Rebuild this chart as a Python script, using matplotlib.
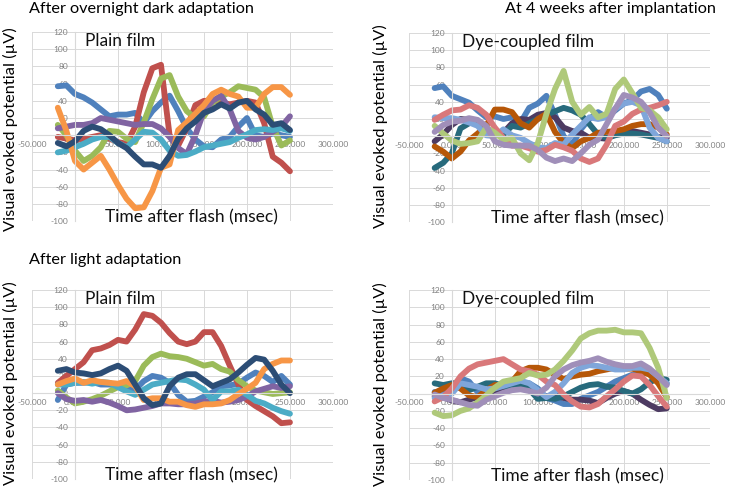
import matplotlib
matplotlib.use('Agg')
import matplotlib.pyplot as plt
from matplotlib.ticker import FuncFormatter, MultipleLocator

plt.rcParams['font.family'] = ['Lato', 'DejaVu Sans']

# time after flash (msec), shared by every trace
t_ms = [-20, -10, 0, 10, 20, 30, 40, 50, 60, 70, 80, 90, 100, 110, 120, 130,
        140, 150, 160, 170, 180, 190, 200, 210, 220, 230, 240, 250]

# --- after overnight dark adaptation, plain film (uV)
dark_plain_blue = [57, 58, 48, 44, 38, 30, 22, 24, 24, 26, 14, 28, 38, 46, 28, 8, -5, -13, -14, -5, -2, 10, 20, 0, -2, 2, 0, -2]
dark_plain_red = [-2, -4, -6, -4, -2, 0, -4, -8, -10, 10, 50, 78, 82, 0, -12, 8, 35, 40, 40, 38, 36, 38, 40, 38, 14, -25, -32, -42]
dark_plain_green = [12, 0, -18, -30, -24, -14, 5, 4, -4, -8, 15, 42, 66, 70, 45, 28, 20, 22, 38, 45, 50, 57, 55, 53, 44, 10, -12, -6]
dark_plain_purple = [8, 10, 12, 12, 14, 20, 18, 16, 14, 12, 13, 13, 8, -2, -15, -22, 0, 28, 40, 46, 30, 5, -3, -5, -2, 4, 10, 22]
dark_plain_aqua = [-20, -18, -14, -10, -5, -2, -2, -9, -14, -5, 4, 3, -5, -18, -24, -23, -19, -14, -12, -10, -8, -3, 1, 6, 7, 6, 8, 5]
dark_plain_orange = [32, 5, -30, -40, -32, -24, -40, -58, -74, -85, -84, -65, -38, -34, 6, 15, 25, 35, 48, 53, 48, 45, 32, 32, 48, 56, 56, 47]
dark_plain_navy = [-9, -13, -7, 5, 10, 7, 0, -9, -15, -25, -34, -34, -38, -24, -4, 8, 16, 26, 30, 36, 31, 38, 40, 30, 24, 12, 14, 6]

# --- at 4 weeks after implantation, dye-coupled film (uV)
dye4w_blue = [56, 58, 47, 43, 39, 30, 22, 23, 20, 22, 16, 33, 38, 47, 25, 0, -10, 8, 20, 28, 22, 30, 38, 42, 52, 55, 48, 32]
dye4w_dkpurple = [-6, 2, 13, 20, 19, 13, 6, 4, 4, 15, 20, 19, 25, 27, 22, 10, 6, 4, -2, -2, -3, 2, 4, 6, 4, 2, -1, -2]
dye4w_teal = [-37, -31, -20, 9, 15, 18, 9, 1, 2, 12, 10, 15, 20, 25, 29, 33, 30, 25, 14, 2, -2, 1, 3, 3, 2, 0, -2, -6]
dye4w_dkorange = [-12, -18, -26, -18, -5, 3, 12, 31, 31, 28, 15, 10, 20, 26, 5, -8, -14, -6, -2, 4, 5, 6, 8, 12, 14, 14, 10, 2]
dye4w_ltblue = [22, 21, 21, 19, 16, 12, 1, 0, 8, 1, -2, -8, -13, -14, -8, -10, 2, 12, 22, 20, 22, 32, 38, 40, 36, 10, -2, -6]
dye4w_pink = [19, 25, 30, 31, 36, 33, 25, 10, -2, -11, -11, -14, -18, -16, -10, -13, -17, -26, -30, -26, -10, 12, 17, 26, 31, 33, 36, 40]
dye4w_ltgreen = [12, 3, -5, -9, -8, -6, 10, 4, -4, -2, -20, -28, -8, 26, 55, 76, 40, 25, 34, 22, 26, 55, 66, 50, 33, 30, 22, 8]
dye4w_lavender = [5, 13, 17, 18, 21, 19, 12, -6, -10, -11, -11, -11, -16, -25, -29, -26, -29, -20, -10, -4, 14, 32, 48, 45, 40, 28, 10, 0]

# --- after light adaptation, plain film (uV)
light_plain_blue = [-8, 10, 12, 12, 13, 10, 10, 8, 5, 4, 14, 20, 18, 12, -2, -10, -9, -4, 1, 8, 9, 11, 18, 24, 20, 13, 20, 10]
light_plain_red = [12, 20, 28, 36, 50, 52, 56, 62, 60, 74, 92, 90, 82, 70, 60, 57, 60, 71, 71, 55, 32, 10, -8, -15, -21, -27, -35, -34]
light_plain_green = [3, -5, -12, -10, -7, -3, 2, 7, 9, 14, 32, 42, 46, 43, 42, 40, 36, 32, 34, 28, 25, 15, 8, 3, 1, -1, 0, 1]
light_plain_purple = [0, -7, -9, -8, -10, -8, -11, -15, -20, -19, -17, -15, -12, -12, -13, -13, -12, -10, -9, -11, -10, -8, -4, 2, 5, 8, 6, 8]
light_plain_aqua = [10, 10, 12, 13, 11, 13, 12, 7, 2, -2, 4, 10, 12, 14, 16, 15, 10, 4, -8, 2, 2, 4, -2, -9, -12, -17, -21, -24]
light_plain_orange = [10, 14, 17, 12, 15, 13, 12, 11, 14, 8, -8, -6, -6, -10, -10, -14, -16, -13, -13, -12, -8, -1, 5, 12, 28, 34, 38, 38]
light_plain_navy = [26, 28, 24, 23, 21, 23, 28, 32, 26, 10, -6, -14, -12, 8, 18, 22, 22, 15, 8, 12, 16, 24, 33, 41, 39, 26, 10, 0]

# --- after light adaptation, dye-coupled film (uV)
light_dye_blue = [2, 0, 5, 18, 14, 2, -2, 0, 4, 8, 10, 12, 6, -5, -8, -12, -12, -6, -2, 2, 8, 14, 18, 22, 24, 24, 22, 12]
light_dye_dkpurple = [-3, -4, -8, -10, -7, -4, -2, 4, 6, 5, 6, 6, 0, -3, -2, -5, -7, -7, -8, -11, -5, 0, 3, 0, -7, -13, -18, -17]
light_dye_teal = [12, 10, 12, 12, 4, 8, 12, 12, 9, 7, 9, 5, -6, -5, -6, -3, 2, 7, 10, 11, 8, 7, 3, 0, 5, 13, 18, 16]
light_dye_dkorange = [1, 6, 10, 6, -2, -4, 4, 10, 10, 14, 26, 30, 30, 28, 22, 17, 20, 22, 23, 26, 28, 30, 29, 29, 26, 22, 12, -4]
light_dye_ltblue = [-5, -2, 0, 12, 10, 8, 5, 6, 9, 12, 15, 12, 4, -4, 2, 12, 24, 30, 33, 32, 30, 28, 28, 30, 30, 28, 20, 12]
light_dye_pink = [-9, -4, 6, 20, 29, 34, 36, 38, 40, 34, 28, 26, 22, 14, 10, -1, -9, -15, -16, -12, -3, 5, 14, 21, 20, 10, -3, -15]
light_dye_ltgreen = [-22, -26, -25, -20, -17, -10, -2, 7, 14, 16, 18, 24, 21, 22, 28, 38, 50, 64, 70, 73, 73, 74, 71, 71, 70, 53, 30, -5]
light_dye_lavender = [-1, -5, -7, -10, -13, -14, -7, -3, 1, 4, 5, 3, 0, 7, 20, 28, 33, 36, 38, 41, 37, 34, 32, 32, 35, 29, 20, 10]

plain_colors = ['#4F81BD', '#C0504D', '#9BBB59', '#8064A2', '#4BACC6', '#F79646', '#2C4D75']
dye_colors = ['#4F81BD', '#4D3B62', '#276A7C', '#B65708', '#7FA6DA', '#D9787A', '#AFC97A', '#A08FB9']

# axes rect, film label, x of the "Time after flash" label, colours, traces
panels = [
    ([0.0436, 0.546, 0.410, 0.388], 'Plain film', 136, plain_colors,
     [dark_plain_blue, dark_plain_red, dark_plain_green, dark_plain_purple,
      dark_plain_aqua, dark_plain_orange, dark_plain_navy]),
    ([0.557, 0.544, 0.410, 0.388], 'Dye-coupled film', 146, dye_colors,
     [dye4w_blue, dye4w_dkpurple, dye4w_teal, dye4w_dkorange,
      dye4w_ltblue, dye4w_pink, dye4w_ltgreen, dye4w_lavender]),
    ([0.0436, 0.0164, 0.410, 0.388], 'Plain film', 136, plain_colors,
     [light_plain_blue, light_plain_red, light_plain_green, light_plain_purple,
      light_plain_aqua, light_plain_orange, light_plain_navy]),
    ([0.557, 0.0144, 0.410, 0.390], 'Dye-coupled film', 146, dye_colors,
     [light_dye_blue, light_dye_dkpurple, light_dye_teal, light_dye_dkorange,
      light_dye_ltblue, light_dye_pink, light_dye_ltgreen, light_dye_lavender]),
]

fig = plt.figure(figsize=(7.34, 4.87), dpi=100)

grid_c = '#D9D9D9'
for rect, film, xlab_x, colors, series in panels:
    ax = fig.add_axes(rect)
    for vals, c in zip(series, colors):
        ax.plot(t_ms, vals, color=c, lw=4.2, solid_capstyle='round',
                solid_joinstyle='round')
    ax.set_xlim(-50, 300)
    ax.set_ylim(-100, 120)
    ax.xaxis.set_major_locator(MultipleLocator(50))
    ax.yaxis.set_major_locator(MultipleLocator(20))
    ax.xaxis.set_major_formatter(FuncFormatter(lambda v, p: '%.3f' % v))
    ax.yaxis.set_major_formatter(FuncFormatter(lambda v, p: '%d' % v))
    ax.grid(True, color=grid_c, lw=0.7)
    ax.set_axisbelow(True)
    # axes cross at zero like the spreadsheet chart
    ax.spines['left'].set_position(('data', 0))
    ax.spines['bottom'].set_position(('data', 0))
    ax.spines['left'].set_color(grid_c)
    ax.spines['bottom'].set_color(grid_c)
    ax.spines['top'].set_visible(False)
    ax.spines['right'].set_visible(False)
    ax.tick_params(length=0, labelsize=6, labelcolor='#808080')
    ax.tick_params(axis='x', pad=4)
    ax.tick_params(axis='y', pad=5)
    ax.set_facecolor('none')
    ax.text(12, 110, film, fontsize=12.5, va='center', ha='left', color='#111111')
    ax.text(xlab_x, -96, 'Time after flash (msec)', fontsize=12.5, va='center',
            ha='center', color='#111111')

ylab = 'Visual evoked potential (\u00b5V)'
fig.text(0.014, 0.735, ylab, rotation=90, fontsize=11.8, va='center', ha='center')
fig.text(0.518, 0.741, ylab, rotation=90, fontsize=11.8, va='center', ha='center')
fig.text(0.014, 0.214, ylab, rotation=90, fontsize=11.8, va='center', ha='center')
fig.text(0.518, 0.211, ylab, rotation=90, fontsize=11.8, va='center', ha='center')

fig.text(0.040, 0.982, 'After overnight dark adaptation', fontsize=11.7, va='center', ha='left')
fig.text(0.976, 0.982, 'At 4 weeks after implantation', fontsize=11.7, va='center', ha='right')
fig.text(0.040, 0.466, 'After light adaptation', fontsize=11.7, va='center', ha='left')

fig.savefig('out.png', dpi=100)
